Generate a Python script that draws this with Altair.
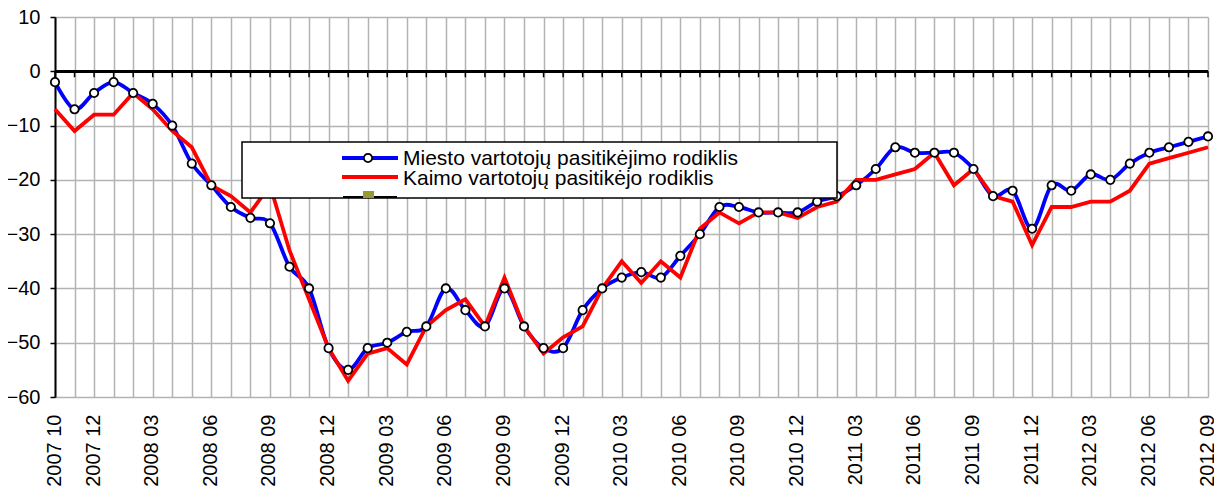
import altair as alt
import pandas as pd

FONT = "Liberation Sans"

# ---- data -----------------------------------------------------------------
years_months = [(2007, m) for m in range(10, 13)] + \
    [(y, m) for y in range(2008, 2012) for m in range(1, 13)] + \
    [(2012, m) for m in range(1, 10)]
months = [f"{y} {m:02d}" for y, m in years_months]

shown_labels = ["2007 10", "2007 12", "2008 03", "2008 06", "2008 09", "2008 12",
                "2009 03", "2009 06", "2009 09", "2009 12", "2010 03", "2010 06",
                "2010 09", "2010 12", "2011 03", "2011 06", "2011 09", "2011 12",
                "2012 03", "2012 06", "2012 09"]

miesto = [-2, -7, -4, -2, -4, -6, -10, -17, -21, -25, -27, -28,
          -36, -40, -51, -55, -51, -50, -48, -47, -40, -44, -47, -40,
          -47, -51, -51, -44, -40, -38, -37, -38, -34, -30, -25, -25,
          -26, -26, -26, -24, -23, -21, -18, -14, -15, -15, -15, -18,
          -23, -22, -29, -21, -22, -19, -20, -17, -15, -14, -13, -12]

kaimo = [-7, -11, -8, -8, -4, -7, -11, -14, -21, -23, -26, -21,
         -33, -42, -51, -57, -52, -51, -54, -47, -44, -42, -47, -38,
         -47, -52, -49, -47, -40, -35, -39, -35, -38, -29, -26, -28,
         -26, -26, -27, -25, -24, -20, -20, -19, -18, -15, -21, -18,
         -23, -24, -32, -25, -25, -24, -24, -22, -17, -16, -15, -14]

y_ticks = [-60, -50, -40, -30, -20, -10, 0, 10]

legend_labels = ["Miesto vartotojų pasitikėjimo rodiklis",
                 "Kaimo vartotojų pasitikėjo rodiklis"]

df_m = pd.DataFrame({"month": months, "value": miesto})
df_k = pd.DataFrame({"month": months, "value": kaimo})
df_zero = pd.DataFrame({"month": months, "value": [0] * len(months)})
one = pd.DataFrame({"a": [0]})

BLUE = "#0000ff"
RED = "#ff0000"
GRID = "#b3b3b3"

shown_js = "[" + ",".join(f"'{s}'" for s in shown_labels) + "]"

x_enc = alt.X(
    "month:O", sort=months,
    scale=alt.Scale(type="point", padding=0, domain=months),
    axis=alt.Axis(
        title=None, values=months,
        labelExpr=f"indexof({shown_js}, datum.value) >= 0 ? datum.label : ''",
        labelAngle=-90, labelFontSize=20, labelFont=FONT, labelColor="black",
        labelOverlap=False, labelPadding=17, labelOffset=-1,
        ticks=False, tickSize=0, domain=False,
        grid=True, gridColor=GRID, gridWidth=1.5, gridOpacity=1,
    ),
)
x_plain = alt.X("month:O", sort=months)

y_enc = alt.Y(
    "value:Q",
    scale=alt.Scale(domain=[-60, 10], nice=False, zero=False),
    axis=alt.Axis(
        title=None, values=y_ticks, labelFontSize=20, labelFont=FONT,
        labelColor="black", labelPadding=10,
        domainColor="black", domainWidth=2,
        tickColor="black", tickWidth=1.5, tickSize=5,
        grid=True, gridColor=GRID, gridWidth=1.5, gridOpacity=1,
    ),
)
y_plain = alt.Y("value:Q")

zero_line = alt.Chart(df_zero).mark_rule(color="black", strokeWidth=2).encode(
    y=y_enc
)
zero_ticks = alt.Chart(df_zero).mark_tick(
    orient="vertical", color="black", size=6, thickness=1.5, opacity=1, yOffset=3
).encode(x=x_enc, y=y_plain)

blue_line = alt.Chart(df_m).mark_line(
    color=BLUE, strokeWidth=3.8, interpolate="cardinal"
).encode(x=x_plain, y=y_plain)
red_line = alt.Chart(df_k).mark_line(
    color=RED, strokeWidth=3.8
).encode(x=x_plain, y=y_plain)
blue_pts = alt.Chart(df_m).mark_point(
    shape="circle", filled=False, fill="white", fillOpacity=1,
    stroke="black", strokeWidth=1.8, size=70, opacity=1
).encode(x=x_plain, y=y_plain)

# ---- legend (drawn box, as in the original) ---------------------------------
leg_box = alt.Chart(one).mark_rect(
    fill="white", stroke="black", strokeWidth=1.5
).encode(x=alt.value(187), x2=alt.value(782), y=alt.value(125), y2=alt.value(181))
leg_blue = alt.Chart(one).mark_rule(color=BLUE, strokeWidth=3.8).encode(
    x=alt.value(287), x2=alt.value(343), y=alt.value(141))
leg_blue_pt = alt.Chart(one).mark_point(
    shape="circle", filled=False, fill="white", fillOpacity=1,
    stroke="black", strokeWidth=1.8, size=70, opacity=1
).encode(x=alt.value(313), y=alt.value(141))
leg_red = alt.Chart(one).mark_rule(color=RED, strokeWidth=3.8).encode(
    x=alt.value(287), x2=alt.value(343), y=alt.value(160))
leg_black = alt.Chart(one).mark_rule(color="black", strokeWidth=2).encode(
    x=alt.value(288), x2=alt.value(342), y=alt.value(180))
leg_sq = alt.Chart(one).mark_rect(color="#999933").encode(
    x=alt.value(308), x2=alt.value(319), y=alt.value(174), y2=alt.value(181))
leg_t1 = alt.Chart(one).mark_text(
    align="left", baseline="alphabetic", fontSize=21, font=FONT, color="black"
).encode(x=alt.value(348), y=alt.value(148), text=alt.value(legend_labels[0]))
leg_t2 = alt.Chart(one).mark_text(
    align="left", baseline="alphabetic", fontSize=21, font=FONT, color="black"
).encode(x=alt.value(348), y=alt.value(168), text=alt.value(legend_labels[1]))

grid_layer = alt.Chart(df_zero).mark_point(opacity=0).encode(x=x_enc, y=y_enc)

chart = alt.layer(
    grid_layer, zero_line, zero_ticks, blue_line, red_line, blue_pts,
    leg_box, leg_blue, leg_blue_pt, leg_red, leg_black, leg_sq, leg_t1, leg_t2,
).properties(
    width=1153, height=380,
    autosize=alt.AutoSizeParams(type="none"),
    padding={"left": 47, "top": 9, "right": 6, "bottom": 90},
    background="white",
).configure_view(stroke=None)

chart.save("out.html", embed_options={"renderer": "svg", "actions": False})
